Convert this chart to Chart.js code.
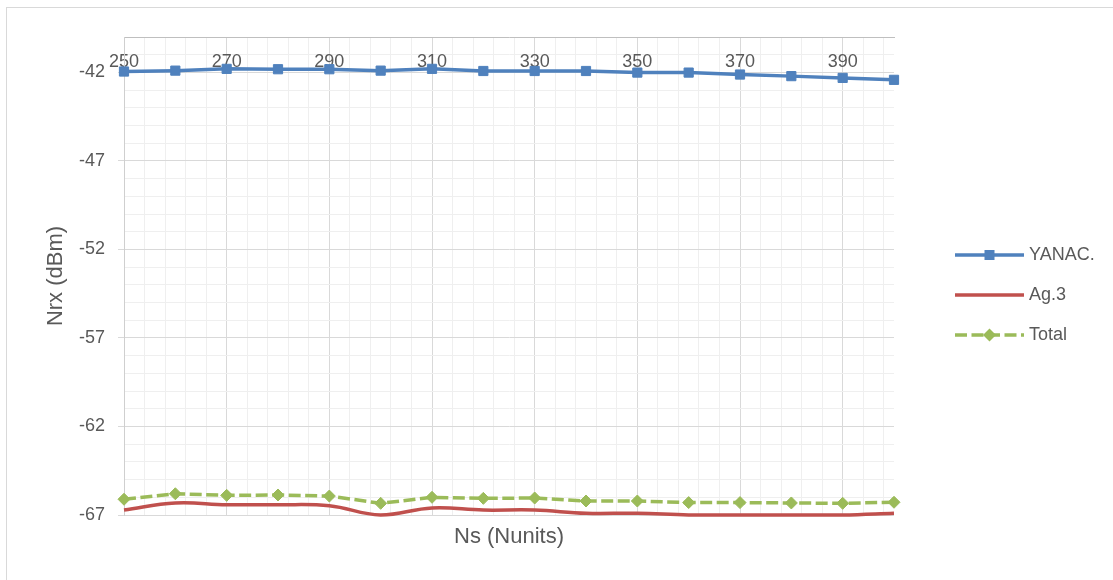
<!DOCTYPE html>
<html>
<head>
<meta charset="utf-8">
<script src="https://cdn.jsdelivr.net/npm/chart.js@4.4.1/dist/chart.umd.min.js"></script>
<style>
  html, body { margin: 0; padding: 0; background: #ffffff; overflow: hidden; }
  #wrap { position: relative; width: 1113px; height: 580px; overflow: hidden; }
  #frame { position: absolute; left: 6px; top: 7px; width: 1200px; height: 700px; border: 1px solid #d9d9d9; box-sizing: border-box; }
  #c { position: absolute; left: 0; top: 0; }
</style>
</head>
<body>
<div id="wrap">
  <div id="frame"></div>
  <canvas id="c" width="1113" height="580"></canvas>
</div>
<script>
// ---- data ----
const categories = [250, 260, 270, 280, 290, 300, 310, 320, 330, 340, 350, 360, 370, 380, 390, 400];
const seriesNames = ['YANAC.', 'Ag.3', 'Total'];
const yanac = [-41.95, -41.90, -41.80, -41.82, -41.82, -41.90, -41.80, -41.92, -41.92, -41.92, -42.01, -42.01, -42.12, -42.21, -42.31, -42.42];
const ag3   = [-66.72, -66.32, -66.42, -66.42, -66.48, -67.00, -66.60, -66.72, -66.72, -66.90, -66.90, -67.00, -67.00, -67.00, -67.00, -66.90];
const total = [-66.11, -65.80, -65.89, -65.87, -65.93, -66.34, -66.00, -66.06, -66.04, -66.21, -66.21, -66.30, -66.30, -66.32, -66.34, -66.28];
const xTickLabels = [250, 270, 290, 310, 330, 350, 370, 390];
const yTickLabels = [-67, -62, -57, -52, -47, -42];

// ---- fonts ----
function hasFont(f) {
  const c = document.createElement('canvas').getContext('2d');
  const s = 'abcdefgYANAC0123456789';
  c.font = '40px monospace';
  const a = c.measureText(s).width;
  c.font = "40px '" + f + "', monospace";
  return c.measureText(s).width !== a;
}
const NARROW = hasFont('Liberation Sans Narrow');
const FAMILY = NARROW ? "'Liberation Sans Narrow', 'Liberation Sans', Arial, sans-serif" : "'Liberation Sans', Arial, sans-serif";
const TICK_SIZE = NARROW ? 21 : 18;
const TITLE_SIZE = NARROW ? 25 : 22;
const LEG_SIZE = NARROW ? 21 : 18;
const TEXT = '#595959';

Chart.defaults.font.family = FAMILY;
Chart.defaults.color = TEXT;

// ---- colours ----
const BLUE = '#4f81bd', RED = '#c0504d', GREEN = '#9bbb59';
const GRID_MAJOR = '#d9d9d9', GRID_MINOR = '#efefef';

// ---- legend symbols ----
const SYM_W = 112, SYM_H = 16, LINE_START = 43, BOX_W = 104;
const ITEM_GAP = 40;                 // vertical distance between legend rows
const LEG_PAD = ITEM_GAP - LEG_SIZE;
function makeSymbol(color, dash, marker) {
  const c = document.createElement('canvas');
  c.width = SYM_W; c.height = SYM_H;
  const g = c.getContext('2d');
  const cy = SYM_H / 2;
  g.strokeStyle = color; g.lineWidth = 3.5;
  if (dash) g.setLineDash(dash);
  g.beginPath(); g.moveTo(LINE_START, cy); g.lineTo(SYM_W, cy); g.stroke();
  g.setLineDash([]);
  const mx = (LINE_START + SYM_W) / 2;
  g.fillStyle = color;
  if (marker === 'rect') {
    g.fillRect(mx - 5, cy - 5, 10, 10);
  } else if (marker === 'diamond') {
    g.beginPath(); g.moveTo(mx - 6.5, cy); g.lineTo(mx, cy - 6.5); g.lineTo(mx + 6.5, cy); g.lineTo(mx, cy + 6.5); g.closePath(); g.fill();
  }
  return c;
}
const symbols = [
  makeSymbol(BLUE, null, 'rect'),
  makeSymbol(RED, null, null),
  makeSymbol(GREEN, [12, 4.5], 'diamond')
];

// ---- layout sizing ----
const mctx = document.createElement('canvas').getContext('2d');
mctx.font = LEG_SIZE + 'px ' + FAMILY;
const maxTextW = Math.max(...seriesNames.map(n => mctx.measureText(n).width));
const legendWidth = LEG_PAD + BOX_W + LEG_SIZE / 2 + maxTextW + 10;
const PLOT_RIGHT = 894;
const padRight = Math.max(0, 1113 - PLOT_RIGHT - legendWidth);
const PAD_TOP = 10;
// legend rows are centred on the full height; PAD_TOP shifts them down
const X_LABEL_CENTER = 62, PLOT_TOP = 37;
const xTickPad = X_LABEL_CENTER - PLOT_TOP - TICK_SIZE * 1.2 / 2;

const toPts = arr => categories.map((c, i) => ({ x: c, y: arr[i] }));

new Chart(document.getElementById('c'), {
  type: 'line',
  data: {
    datasets: [
      {
        label: seriesNames[0], data: toPts(yanac),
        borderColor: BLUE, backgroundColor: BLUE, borderWidth: 3.5,
        pointStyle: 'rect', pointRadius: 6.5, pointBorderWidth: 1, pointBorderColor: BLUE, pointBackgroundColor: BLUE,
        tension: 0, clip: false
      },
      {
        label: seriesNames[1], data: toPts(ag3),
        borderColor: RED, backgroundColor: RED, borderWidth: 3.5,
        pointRadius: 0, tension: 0.4, clip: false
      },
      {
        label: seriesNames[2], data: toPts(total),
        borderColor: GREEN, backgroundColor: GREEN, borderWidth: 3.5, borderDash: [12, 4.5],
        pointStyle: 'rectRot', pointRadius: 6, pointBorderWidth: 1, pointBorderColor: GREEN, pointBackgroundColor: GREEN,
        tension: 0, clip: false
      }
    ]
  },
  options: {
    responsive: false,
    animation: false,
    devicePixelRatio: 1,
    events: [],
    layout: { padding: { top: PAD_TOP, right: padRight, bottom: 0, left: 0 } },
    scales: {
      x: {
        type: 'linear', position: 'top', min: 250, max: 400,
        afterFit: s => { s.height = PLOT_TOP - PAD_TOP; },
        grid: {
          drawTicks: false, lineWidth: 1,
          color: ctx => {
            const v = ctx.tick ? ctx.tick.value : null;
            if (v === null) return 'rgba(0,0,0,0)';
            if (xTickLabels.includes(v)) return GRID_MAJOR;
            if ((v - 250) % 4 === 0) return GRID_MINOR;
            return 'rgba(0,0,0,0)';
          }
        },
        border: { display: true, color: '#bfbfbf', width: 1 },
        ticks: {
          stepSize: 2, autoSkip: false, maxRotation: 0, minRotation: 0,
          mirror: true, padding: xTickPad, color: TEXT, font: { size: TICK_SIZE },
          callback: v => xTickLabels.includes(v) ? String(v) : ''
        }
      },
      xb: {
        type: 'linear', position: 'bottom', min: 250, max: 400,
        afterFit: s => { s.height = 65; },
        grid: { display: false },
        border: { display: false },
        ticks: { display: false },
        title: { display: true, text: 'Ns (Nunits)', color: TEXT, font: { size: TITLE_SIZE }, padding: { top: 0, bottom: 43 - TITLE_SIZE * 0.6 } }
      },
      y: {
        type: 'linear', position: 'left', min: -67, max: -40,
        afterFit: s => { s.width = 124; },
        grid: {
          lineWidth: 1, tickLength: 6, drawTicks: true,
          color: ctx => {
            const v = ctx.tick ? ctx.tick.value : null;
            if (v === null) return 'rgba(0,0,0,0)';
            return yTickLabels.includes(v) ? GRID_MAJOR : GRID_MINOR;
          },
          tickColor: ctx => {
            const v = ctx.tick ? ctx.tick.value : null;
            return (v !== null && yTickLabels.includes(v)) ? GRID_MAJOR : 'rgba(0,0,0,0)';
          }
        },
        border: { display: true, color: '#cfcfcf', width: 1 },
        ticks: {
          stepSize: 1, autoSkip: false, padding: 13, color: TEXT, font: { size: TICK_SIZE },
          callback: v => yTickLabels.includes(v) ? String(v) : ''
        },
        title: { display: true, text: 'Nrx (dBm)', color: TEXT, font: { size: TITLE_SIZE }, padding: { top: 56 - TITLE_SIZE * 0.6, bottom: 0 } }
      }
    },
    plugins: {
      tooltip: { enabled: false },
      legend: {
        display: true, position: 'right', align: 'center',
        labels: {
          usePointStyle: true, pointStyleWidth: BOX_W, padding: LEG_PAD,
          color: TEXT, font: { size: LEG_SIZE },
          generateLabels: chart => chart.data.datasets.map((ds, i) => ({
            text: ds.label, fillStyle: 'rgba(0,0,0,0)', strokeStyle: 'rgba(0,0,0,0)', lineWidth: 0,
            pointStyle: symbols[i], hidden: false, datasetIndex: i, fontColor: TEXT
          }))
        }
      }
    }
  }
});
</script>
</body>
</html>
